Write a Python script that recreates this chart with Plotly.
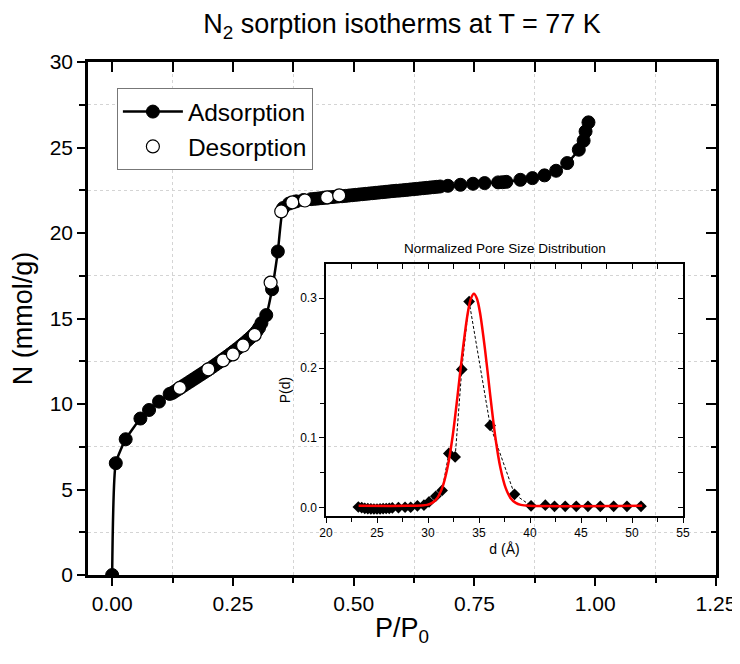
import plotly.graph_objects as go

# Adsorption branch (P/P0, N in mmol/g)
ads_p = [0.000, 0.0075, 0.028, 0.0585, 0.0764, 0.097, 0.119,
         0.125, 0.131, 0.137, 0.143, 0.149, 0.155, 0.161, 0.167, 0.173, 0.179,
         0.185, 0.191, 0.197, 0.203, 0.209, 0.215, 0.221, 0.227, 0.233, 0.239,
         0.245, 0.251, 0.257, 0.263, 0.269, 0.275, 0.281, 0.287, 0.293, 0.299, 0.304,
         0.309, 0.319, 0.331, 0.343, 0.354, 0.366, 0.381, 0.396, 0.412,
         0.420, 0.427, 0.434, 0.441, 0.448, 0.455, 0.462, 0.469, 0.476, 0.483,
         0.490, 0.497, 0.504, 0.511, 0.518, 0.525, 0.532, 0.539, 0.546, 0.553,
         0.560, 0.567, 0.574, 0.581, 0.588, 0.595, 0.602, 0.609, 0.616, 0.623,
         0.630, 0.637, 0.644, 0.651, 0.658, 0.665, 0.672, 0.679,
         0.695, 0.721, 0.747, 0.771, 0.799, 0.808, 0.816, 0.845, 0.870, 0.895,
         0.919, 0.942, 0.966, 0.976, 0.980, 0.986]
ads_n = [0.00, 6.54, 7.94, 9.15, 9.65, 10.14, 10.59,
         10.65, 10.76, 10.87, 10.98, 11.09, 11.20, 11.31, 11.42, 11.53, 11.64,
         11.75, 11.86, 11.97, 12.08, 12.20, 12.32, 12.44, 12.56, 12.68, 12.80,
         12.93, 13.06, 13.19, 13.32, 13.46, 13.60, 13.75, 13.90, 14.06, 14.25, 14.45,
         14.73, 15.20, 16.71, 18.92, 21.46, 21.72, 21.85, 21.93, 21.98,
         22.00, 22.02, 22.04, 22.06, 22.08, 22.10, 22.12, 22.14, 22.15, 22.17,
         22.19, 22.21, 22.23, 22.25, 22.27, 22.29, 22.31, 22.33, 22.35, 22.37,
         22.39, 22.41, 22.43, 22.45, 22.47, 22.48, 22.50, 22.52, 22.54, 22.56,
         22.58, 22.60, 22.62, 22.64, 22.66, 22.68, 22.70, 22.72,
         22.76, 22.82, 22.88, 22.92, 22.96, 22.97, 22.99, 23.11, 23.21, 23.37,
         23.64, 24.09, 24.87, 25.40, 25.94, 26.47]

# Desorption branch
des_p = [0.140, 0.199, 0.2295, 0.250, 0.271, 0.295, 0.328, 0.350, 0.373, 0.399, 0.445, 0.470]
des_n = [10.94, 12.03, 12.55, 12.90, 13.42, 14.04, 17.10, 21.26, 21.79, 21.90, 22.08, 22.20]

# Pore size distribution (inset)
psd_d = [23.17, 23.5, 23.8, 24.1, 24.4, 24.7, 25.0, 25.3, 25.6, 25.9, 26.2, 26.5,
         27.1, 27.75, 28.3, 28.96, 29.6, 30.1, 30.76, 31.38, 32.04, 32.66, 33.31,
         34.03, 36.09, 38.48, 40.1, 41.5, 42.4, 43.45, 44.53, 45.68, 46.89, 48.2,
         49.5, 50.88]
psd_p = [0.0014, 0.0005, -0.0005, -0.001, -0.0012, -0.0015, -0.0015, -0.0012,
         -0.001, -0.0008, -0.0005, 0.0, 0.0005, 0.001, 0.001, 0.003, 0.004, 0.0086,
         0.0167, 0.025, 0.078, 0.073, 0.198, 0.295, 0.118, 0.0195, 0.003, 0.004,
         0.0024, 0.0024, 0.0024, 0.0024, 0.0024, 0.0024, 0.0024, 0.0024]

# Gaussian fit curve
fit_d = [23.2, 28.0, 29.4, 29.9, 30.4, 30.9, 31.4, 31.9, 32.4, 32.9, 33.4, 33.9,
         34.2, 34.5, 34.8, 35.1, 35.6, 36.1, 36.6, 37.1, 37.6, 38.1, 38.6, 39.1,
         39.9, 51.0]
fit_p = [0.003, 0.003, 0.0035, 0.0044, 0.0072, 0.014, 0.029, 0.057, 0.101, 0.161,
         0.225, 0.279, 0.299, 0.306, 0.299, 0.279, 0.225, 0.161, 0.101, 0.057,
         0.029, 0.014, 0.0072, 0.0044, 0.003, 0.003]

FONT = "Liberation Sans, Arial, sans-serif"
GRID = "#d4d4d4"

fig = go.Figure()

fig.add_trace(go.Scatter(
    x=ads_p, y=ads_n, name="Adsorption", mode="lines+markers",
    line=dict(color="black", width=2.5, shape="spline", smoothing=0.5),
    marker=dict(symbol="circle", size=13, color="black", line=dict(color="black", width=1))
))
fig.add_trace(go.Scatter(
    x=des_p, y=des_n, name="Desorption", mode="markers",
    marker=dict(symbol="circle", size=13, color="white", line=dict(color="black", width=1.2))
))

# inset
fig.add_trace(go.Scatter(
    x=psd_d, y=psd_p, mode="lines+markers", showlegend=False, xaxis="x2", yaxis="y2",
    line=dict(color="black", width=1, dash="3px,2px"),
    marker=dict(symbol="diamond", size=9, color="black")
))
fig.add_trace(go.Scatter(
    x=fit_d, y=fit_p, mode="lines", showlegend=False, xaxis="x2", yaxis="y2",
    line=dict(color="#ff0000", width=2.5, shape="spline", smoothing=0.8)
))

# empty traces so the mirror axes get drawn
for xa, ya in [("x3", "y"), ("x", "y3"), ("x4", "y2"), ("x2", "y4")]:
    fig.add_trace(go.Scatter(x=[], y=[], xaxis=xa, yaxis=ya, showlegend=False, hoverinfo="skip"))

main_x = dict(range=[-0.05, 1.25], tick0=0, dtick=0.25, automargin=False)
main_y = dict(range=[0, 30], tick0=0, dtick=5, automargin=False)
ins_x = dict(range=[20, 55], tick0=20, dtick=5, automargin=False)
ins_y = dict(range=[-0.0115, 0.3485], tick0=0, dtick=0.1, automargin=False)

fig.update_layout(
    width=740, height=664,
    margin=dict(l=80, r=32, t=54, b=97),
    paper_bgcolor="white", plot_bgcolor="rgba(0,0,0,0)",
    font=dict(family=FONT, color="black"),
    title=dict(text="N<sub>2</sub> sorption isotherms at T = 77 K", x=0.5, xref="paper",
               xanchor="center", y=0.976, yanchor="middle", font=dict(size=27, color="black"),
               automargin=False),
    legend=dict(x=0.046, y=0.949, xanchor="left", yanchor="top", bgcolor="white",
                bordercolor="#777777", borderwidth=1, font=dict(size=24.5), itemwidth=60,
                tracegroupgap=0),
    xaxis=dict(**main_x, showline=True, linecolor="black", linewidth=2.5, zeroline=False,
               showgrid=False, ticks="outside", ticklen=8, tickwidth=2, tickcolor="black",
               tickformat=".2f", tickfont=dict(size=21),
               minor=dict(dtick=0.125, tick0=0, ticks="outside", ticklen=5, tickwidth=2,
                          tickcolor="black", showgrid=True, gridcolor=GRID, griddash="3px,3px",
                          gridwidth=1),
               title=dict(text="P/P<sub>0</sub>", font=dict(size=27), standoff=5)),
    yaxis=dict(**main_y, showline=True, linecolor="black", linewidth=2.5, zeroline=False,
               showgrid=False, ticks="outside", ticklen=8, tickwidth=2, tickcolor="black",
               tickfont=dict(size=21),
               minor=dict(dtick=2.5, tick0=0, ticks="outside", ticklen=6, tickwidth=2,
                          tickcolor="black", showgrid=True, gridcolor=GRID, griddash="3px,3px",
                          gridwidth=1),
               title=dict(text="N (mmol/g)", font=dict(size=27), standoff=10)),
    xaxis3=dict(**main_x, overlaying="x", anchor="y", side="top", showline=True,
                linecolor="black", linewidth=2.5, showgrid=False, zeroline=False,
                showticklabels=False, ticks="inside", ticklen=10, tickwidth=2, tickcolor="black",
                minor=dict(dtick=0.125, tick0=0, ticks="inside", ticklen=10, tickwidth=2,
                           tickcolor="black", showgrid=False)),
    yaxis3=dict(**main_y, overlaying="y", anchor="x", side="right", showline=True,
                linecolor="black", linewidth=2.5, showgrid=False, zeroline=False,
                showticklabels=False, ticks="inside", ticklen=10, tickwidth=2, tickcolor="black",
                minor=dict(dtick=2.5, tick0=0, ticks="inside", ticklen=5, tickwidth=2,
                           tickcolor="black", showgrid=False)),
    xaxis2=dict(**ins_x, domain=[0.379, 0.9475], anchor="y2", showline=True, linecolor="black",
                linewidth=1.5, showgrid=False, zeroline=False, ticks="outside", ticklen=5,
                tickwidth=1, tickcolor="black", tickfont=dict(size=12),
                minor=dict(dtick=2.5, tick0=20, ticks="outside", ticklen=4, tickwidth=1,
                           tickcolor="black", showgrid=False),
                title=dict(text="d (Å)", font=dict(size=14), standoff=5)),
    yaxis2=dict(**ins_y, domain=[0.115, 0.606], anchor="x2", showline=True, linecolor="black",
                linewidth=1.5, showgrid=False, zeroline=False, ticks="outside", ticklen=5,
                tickwidth=1, tickcolor="black", tickfont=dict(size=12), tickformat=".1f",
                minor=dict(dtick=0.05, tick0=0, ticks="outside", ticklen=4, tickwidth=1,
                           tickcolor="black", showgrid=False),
                title=dict(text="P(d)", font=dict(size=14), standoff=6)),
    xaxis4=dict(**ins_x, overlaying="x2", anchor="y2", side="top", showline=True,
                linecolor="black", linewidth=1.5, showgrid=False, zeroline=False,
                showticklabels=False, ticks="inside", ticklen=5, tickwidth=1, tickcolor="black",
                minor=dict(dtick=2.5, tick0=20, ticks="inside", ticklen=5, tickwidth=1,
                           tickcolor="black", showgrid=False)),
    yaxis4=dict(**ins_y, overlaying="y2", anchor="x2", side="right", showline=True,
                linecolor="black", linewidth=1.5, showgrid=False, zeroline=False,
                showticklabels=False, ticks="inside", ticklen=5, tickwidth=1, tickcolor="black",
                minor=dict(dtick=0.05, tick0=0, ticks="inside", ticklen=5, tickwidth=1,
                           tickcolor="black", showgrid=False)),
    annotations=[dict(text="Normalized Pore Size Distribution", x=0.5, xref="x2 domain",
                      y=1.0, yref="y2 domain", xanchor="center", yanchor="bottom", yshift=6,
                      showarrow=False, font=dict(size=13.5, color="black"))],
)

fig.write_html("out.html")
